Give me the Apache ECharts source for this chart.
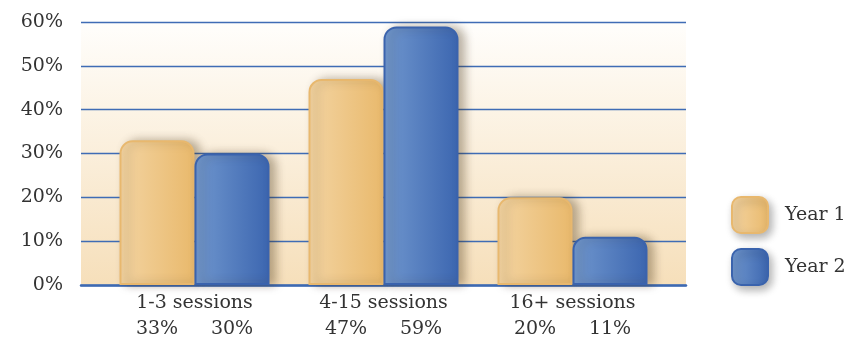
<!DOCTYPE html>
<html><head><meta charset="utf-8">
<script src="https://cdn.jsdelivr.net/npm/echarts@6/dist/echarts.min.js"></script>
<style>html,body{margin:0;padding:0;background:#fff}#c{width:847px;height:340px}</style>
</head><body><div id="c"></div>
<script>
const categories = ['1-3 sessions', '4-15 sessions', '16+ sessions'];
const year1 = [33, 47, 20];
const year2 = [30, 59, 11];
const yTicks = [0, 10, 20, 30, 40, 50, 60];
const seriesNames = ['Year 1', 'Year 2'];

const FONT = 'DejaVu Serif';
const chart = echarts.init(document.getElementById('c'));
const lg = (a, b) => new echarts.graphic.LinearGradient(0, 0, 1, 0, [{offset: 0, color: a}, {offset: 1, color: b}]);
const orange = lg('#f3d4a2', '#e9b96c');
const blue = lg('#7097ce', '#3c66b0');

chart.setOption({
  animation: false,
  grid: [
    {left: 81, right: 161, top: 22, bottom: 55, show: true, borderWidth: 0, containLabel: false, outerBoundsMode: 'none',
     backgroundColor: new echarts.graphic.LinearGradient(0, 0, 0, 1, [{offset: 0, color: '#fffefc'}, {offset: 1, color: '#f6dfba'}])},
    {left: 100, right: 180, top: 22, bottom: 55, containLabel: false, outerBoundsMode: 'none'}
  ],
  legend: {
    orient: 'vertical', left: 731, top: 196, itemWidth: 36, itemHeight: 36, itemGap: 14, padding: 0,
    icon: 'roundRect',
    textStyle: {fontFamily: FONT, fontSize: 19, color: '#333', padding: [0, 0, 0, 12]},
    itemStyle: {shadowBlur: 8, shadowOffsetX: 3, shadowOffsetY: 4, shadowColor: 'rgba(0,0,0,0.3)'},
    data: seriesNames
  },
  xAxis: [
    {gridIndex: 0, type: 'value', min: 0, max: 1, show: true,
     axisLine: {show: true, lineStyle: {color: '#3d69b2', width: 2.5}},
     axisTick: {show: false}, axisLabel: {show: false}, splitLine: {show: false}},
    {gridIndex: 1, type: 'category', data: categories,
     axisLine: {show: false}, axisTick: {show: false},
     axisLabel: {
       interval: 0, hideOverlap: false,
       margin: 5, lineHeight: 26,
       formatter: (v, i) => v + '\n{a|' + year1[i] + '%}{b|' + year2[i] + '%}',
       fontFamily: FONT, fontSize: 19, color: '#333', align: 'center',
       rich: {a: {width: 75, align: 'center', fontFamily: FONT, fontSize: 19, color: '#333', lineHeight: 26},
              b: {width: 75, align: 'center', fontFamily: FONT, fontSize: 19, color: '#333', lineHeight: 26}}
     }}
  ],
  yAxis: [
    {gridIndex: 0, type: 'value', min: yTicks[0], max: yTicks[yTicks.length - 1], interval: 10,
     axisLine: {show: false}, axisTick: {show: false},
     axisLabel: {formatter: '{value}%', fontFamily: FONT, fontSize: 19, color: '#333', margin: 18},
     splitLine: {show: true, lineStyle: {color: '#3f6cb5', width: 1.3}}},
    {gridIndex: 1, type: 'value', min: 0, max: 60, interval: 10, show: false, splitLine: {show: false}}
  ],
  series: [
    {name: seriesNames[0], type: 'bar', xAxisIndex: 1, yAxisIndex: 1, data: year1,
     barWidth: 75, barGap: '0%',
     itemStyle: {color: orange, borderColor: '#e8b86e', borderWidth: 2, borderRadius: [12, 12, 0, 0],
                 shadowBlur: 10, shadowOffsetX: 6, shadowOffsetY: 0, shadowColor: 'rgba(60,40,10,0.35)'}},
    {name: seriesNames[1], type: 'bar', xAxisIndex: 1, yAxisIndex: 1, data: year2,
     barWidth: 75, barGap: '0%',
     itemStyle: {color: blue, borderColor: '#3a63ad', borderWidth: 2, borderRadius: [12, 12, 0, 0],
                 shadowBlur: 10, shadowOffsetX: 6, shadowOffsetY: 0, shadowColor: 'rgba(60,40,10,0.35)'}}
  ]
});
</script></body></html>
